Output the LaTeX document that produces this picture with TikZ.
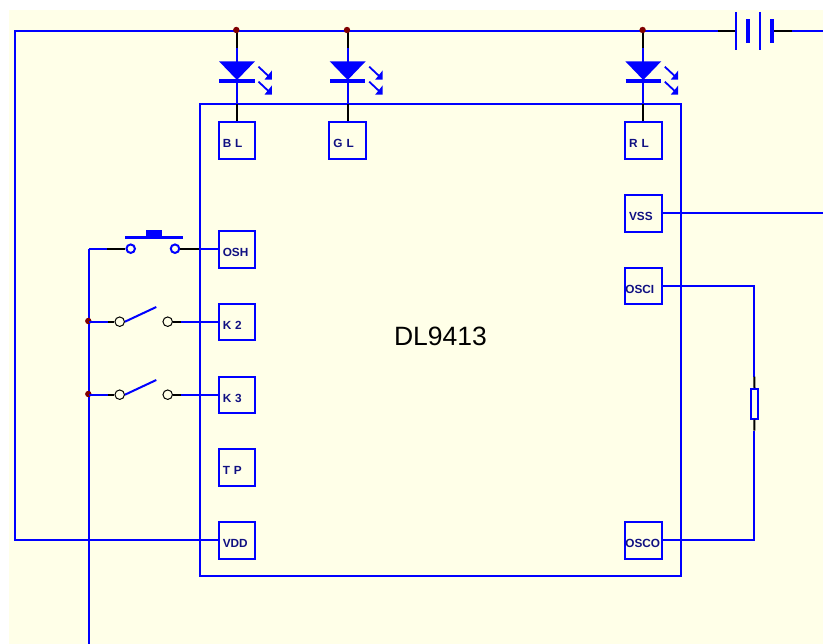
\documentclass[tikz,border=0pt]{standalone}
\usepackage{fontspec}
\setmainfont{Liberation Sans}
\definecolor{paper}{RGB}{255,255,232}
\definecolor{dotred}{RGB}{128,0,0}
\definecolor{pinink}{RGB}{16,16,130}
\tikzset{
  wire/.style={blue, line width=2pt},
  lead/.style={black, line width=2pt},
  pinbox/.style={draw=blue, line width=2pt, rectangle, minimum size=36.5pt, inner xsep=4pt, text width=28.5pt, align=left,
    text=pinink, font=\fontsize{11.8}{12}\selectfont\bfseries, text height=14.6pt, text depth=0pt},
  pinwide/.style={pinbox, inner xsep=0.3pt, text width=35.9pt},
  junction/.style={circle, fill=dotred, inner sep=0pt, minimum size=6.4pt},
  contact/.style={circle, draw=black, line width=1pt, fill=paper, inner sep=0pt, minimum size=9.5pt},
  knob/.style={circle, draw=blue, line width=2pt, fill=paper, inner sep=0pt, minimum size=8.5pt}
}
\begin{document}
\begin{tikzpicture}[x=1pt,y=-1pt]
    \useasboundingbox (0,0) rectangle (823,644);
    \fill[paper] (9,10) rectangle (823,644);
    % chip and its pins
    \draw[wire] (200,104) rectangle (681,576);
    \node[font=\fontsize{26.5}{28}\selectfont] (chip) at (440.5,336) {DL9413};
    \node[pinbox] (bl) at (237,140.3) {B L};
    \node[pinbox] (gl) at (347.7,140.3) {G L};
    \node[pinbox] (rl) at (643.3,140.3) {R L};
    \node[pinbox] (osh) at (237,249.5) {OSH};
    \node[pinbox] (ktwo) at (237,322) {K 2};
    \node[pinbox] (kthree) at (237,395) {K 3};
    \node[pinbox] (tp) at (237,467.7) {T P};
    \node[pinbox] (vdd) at (237,540.3) {VDD};
    \node[pinbox] (vss) at (643.3,213.3) {VSS};
    \node[pinwide] (osci) at (643.3,286) {OSCI};
    \node[pinwide] (osco) at (643.3,540.3) {OSCO};
    % supply line and battery
    \coordinate (corner) at (15.3,31);
    \coordinate (batl) at (717.7,31);
    \coordinate (batm) at (736,31);
    \coordinate (batr) at (772,31);
    \coordinate (batq) at (792,31);
    \coordinate (batend) at (823,31);
    \draw[wire] (vdd.west) -| (corner) -- (batl);
    \draw[lead] (batl) -- (batm);
    \draw[lead] (batr) -- (batq);
    \draw[wire] (batq) -- (batend);
    \draw[blue, line width=2pt] (736,12) -- (736,50);
    \draw[blue, line width=3.7pt] (748,19.3) -- (748,42.7);
    \draw[blue, line width=2pt] (760,12) -- (760,50);
    \draw[blue, line width=3.7pt] (772,19.3) -- (772,42.7);
    % the three LEDs
    \foreach \x/\pinname in {237/bl, 347.7/gl, 643.3/rl} {
        \coordinate (top\pinname) at (\x,31);
        \coordinate (mid\pinname) at (\x,48);
        \coordinate (low\pinname) at (\x,104);
        \draw[wire] (mid\pinname) -- (low\pinname);
        \draw[lead] (top\pinname) -- (mid\pinname);
        \draw[lead] (low\pinname) -- (\pinname.north);
        \node[junction] (dot\pinname) at (\x-0.7,30) {};
        \fill[blue] (\x-18,61.3) -- (\x+18,61.3) -- (\x,80) -- cycle;
        \draw[blue, line width=3.5pt] (\x-17.7,81) -- (\x+17.7,81);
        \foreach \y in {0,15} {
            \draw[blue, line width=1.8pt] (\x+21.5,66.7+\y) -- (\x+33,77.5+\y);
            \fill[blue] (\x+27.5,79.6+\y) -- (\x+34.9,79.6+\y) -- (\x+34.9,70.5+\y) -- cycle;
        }
    }
    % lines to the switches
    \coordinate (railtop) at (89,248.7);
    \coordinate (railend) at (89,644);
    \draw[wire] (railtop) -- (railend);
    \node[knob] (osha) at (130.7,248.7) {};
    \node[knob] (oshb) at (175,248.7) {};
    \coordinate (oshl) at (107,248.7);
    \coordinate (oshr) at (199,248.7);
    \draw[wire] (railtop) -- (oshl);
    \draw[lead] (oshl) -- (osha.west);
    \draw[lead] (oshb.east) -- (oshr);
    \draw[wire] (oshr) -- (osh.west |- oshr);
    \draw[blue, line width=3.5pt] (125,237.3) -- (182.7,237.3);
    \fill[blue] (146,230) rectangle (162,237.3);
    \foreach \y/\pinname in {321.7/ktwo, 394.7/kthree} {
        \node[junction] (dot\pinname) at (88.3,\y-0.7) {};
        \node[contact] (\pinname a) at (119.7,\y) {};
        \node[contact] (\pinname b) at (167.7,\y) {};
        \coordinate (\pinname l) at (108,\y);
        \coordinate (\pinname r) at (180.7,\y);
        \coordinate (rail\pinname) at (89,\y);
        \draw[wire] (rail\pinname) -- (\pinname l);
        \draw[lead] (\pinname l) -- (\pinname a.west);
        \draw[lead] (\pinname b.east) -- (\pinname r);
        \draw[wire] (\pinname r) -- (\pinname.west |- \pinname r);
        \draw[wire] (\pinname a.east) -- (156.3,\y-14.7);
    }
    % right side, with the resistor
    \coordinate (vssend) at (823,213.3);
    \coordinate (rtop) at (754.3,376.7);
    \coordinate (rbot) at (754.3,430.7);
    \node[draw=blue, line width=2pt, minimum width=7.6pt, minimum height=29.7pt, inner sep=0pt] (res) at (754.5,403.8) {};
    \draw[wire] (vss.east) -- (vssend);
    \draw[wire] (osci.east) -| (rtop);
    \draw[lead] (rtop) -- (res.north);
    \draw[lead] (res.south) -- (rbot);
    \draw[wire] (rbot) |- (osco.east);
\end{tikzpicture}
\end{document}
